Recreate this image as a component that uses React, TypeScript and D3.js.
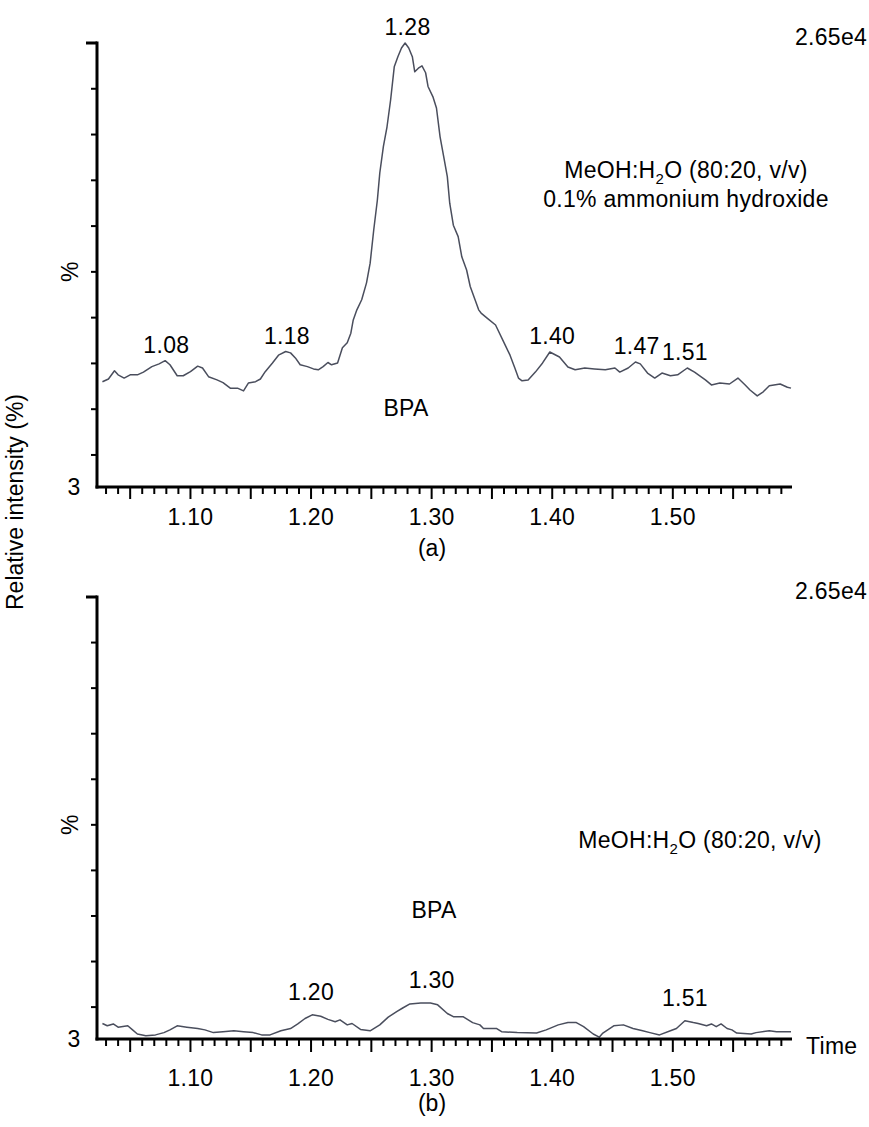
import React from "react";
import * as d3 from "d3";

// ---------- data ----------
const timeA = [1.027,1.032,1.037,1.040,1.045,1.050,1.056,1.061,1.068,1.074,1.079,1.083,1.089,1.094,1.100,1.106,1.110,1.115,1.122,1.127,1.133,1.139,1.144,1.148,1.154,1.158,1.162,1.168,1.173,1.179,1.183,1.187,1.191,1.197,1.202,1.206,1.210,1.214,1.217,1.222,1.226,1.230,1.233,1.235,1.238,1.242,1.246,1.249,1.252,1.255,1.257,1.260,1.263,1.266,1.269,1.272,1.275,1.278,1.281,1.284,1.286,1.289,1.292,1.295,1.297,1.301,1.304,1.307,1.310,1.313,1.315,1.318,1.322,1.325,1.329,1.332,1.336,1.339,1.341,1.346,1.353,1.361,1.365,1.369,1.372,1.375,1.380,1.386,1.392,1.398,1.406,1.413,1.419,1.427,1.435,1.444,1.452,1.456,1.463,1.469,1.473,1.479,1.485,1.491,1.498,1.504,1.512,1.518,1.527,1.532,1.539,1.547,1.554,1.560,1.564,1.570,1.575,1.580,1.589,1.595,1.598];
const intensityA = [26.0,26.6,28.4,27.5,26.8,27.5,27.5,28.1,29.3,29.9,30.6,29.7,27.3,27.3,28.2,29.4,29.0,27.1,26.4,25.8,24.6,24.6,24.0,25.7,26.0,26.6,28.2,30.1,31.8,32.6,32.3,31.2,29.7,29.3,28.8,28.6,29.3,30.2,29.7,30.1,33.4,34.5,36.6,39.5,41.7,43.9,47.6,51.9,59.2,65.7,71.6,77.4,81.7,87.6,94.8,97.0,98.9,100,98.9,97.0,93.7,94.5,95.0,93.5,90.5,88.3,85.8,79.5,75.2,70.8,65.0,60.2,57.7,53.3,50.4,46.8,43.9,41.7,41.0,39.9,38.4,34.0,31.8,29.0,26.8,26.2,26.4,28.1,30.1,32.5,31.4,29.2,28.6,29.0,28.8,28.6,29.0,28.1,29.0,30.3,29.9,27.9,26.8,27.9,27.3,27.5,29.0,28.1,26.4,25.3,25.7,25.5,26.8,25.3,24.2,22.9,23.8,25.1,25.5,24.8,24.6];

const timeB = [1.027,1.031,1.036,1.040,1.048,1.052,1.056,1.063,1.071,1.078,1.083,1.089,1.097,1.106,1.112,1.119,1.127,1.136,1.144,1.152,1.159,1.166,1.175,1.183,1.189,1.195,1.201,1.208,1.214,1.220,1.224,1.230,1.234,1.241,1.249,1.257,1.264,1.271,1.276,1.282,1.291,1.299,1.305,1.313,1.318,1.326,1.334,1.340,1.343,1.354,1.358,1.371,1.387,1.395,1.405,1.413,1.420,1.426,1.434,1.439,1.442,1.451,1.459,1.467,1.475,1.481,1.489,1.498,1.503,1.510,1.517,1.521,1.528,1.532,1.536,1.540,1.545,1.549,1.553,1.565,1.569,1.580,1.586,1.598];
const intensityB = [6.4,5.9,6.3,5.6,5.9,5.0,4.1,3.7,3.9,4.4,5.0,5.9,5.6,5.3,5.0,4.4,4.6,4.8,4.6,4.4,3.9,3.9,4.8,5.3,6.3,7.5,8.3,8.0,7.3,6.8,7.2,6.1,6.4,5.1,4.8,6.1,7.8,9.0,9.8,10.7,10.9,10.9,10.5,8.6,7.9,7.9,6.6,6.1,5.3,5.3,4.6,4.4,4.3,5.0,6.1,6.6,6.6,5.7,4.1,3.4,4.3,5.9,6.1,5.3,4.8,4.4,3.9,4.8,5.3,7.0,6.6,6.4,5.9,6.3,5.7,6.3,5.3,5.0,4.3,4.1,4.4,4.8,4.6,4.6];

const peaksA = [1.08, 1.18, 1.28, 1.40, 1.47, 1.51];
const peaksB = [1.20, 1.30, 1.51];
const yTickValues = [100, 90, 80, 70, 60, 50, 40, 30, 20, 10];
const xTickIndex = d3.range(103, 160); // hundredths: 1.03 .. 1.59
const xLabelValues = [1.10, 1.20, 1.30, 1.40, 1.50];
const maxIntensityLabel = "2.65e4";

// ---------- layout ----------
const W = 869;
const H = 1127;
const FONT = "'Liberation Sans', Arial, Helvetica, sans-serif";
const FS = 23;
const LS = 0.3;
const LINE_COLOR = "#4a4e5d";

const x = d3.scaleLinear().domain([1.0225, 1.598]).range([97, 791]);

type PanelProps = {
  top: number;
  bottom: number;
  times: number[];
  values: number[];
  peaks: number[];
  peakOffset: number;
  tickLabelDy: number;
  majorLen: number;
};

function Panel(p: PanelProps) {
  const y = d3.scaleLinear().domain([3, 100]).range([p.bottom, p.top]);
  const pts: [number, number][] = p.times.map((t, i) => [t, p.values[i]]);
  const line = d3
    .line<[number, number]>()
    .x((d) => x(d[0]))
    .y((d) => y(d[1]));
  const x0 = x.range()[0];
  const x1 = x.range()[1];
  return (
    <g>
      <path d={line(pts) || ""} fill="none" stroke={LINE_COLOR} strokeWidth={1.5} strokeLinejoin="round" />
      {/* y axis */}
      <line x1={x0} x2={x0} y1={p.top - 1.5} y2={p.bottom + 1.5} stroke="#000" strokeWidth={3} />
      {yTickValues.map((v) => (
        <line
          key={v}
          x1={x0 - (v === 100 ? 11 : 6)}
          x2={x0}
          y1={y(v)}
          y2={y(v)}
          stroke="#000"
          strokeWidth={v === 100 ? 3 : 2}
        />
      ))}
      {/* x axis */}
      <line x1={x0 - 1.5} x2={x1 + 1} y1={p.bottom} y2={p.bottom} stroke="#000" strokeWidth={3} />
      {xTickIndex.map((i) => {
        const major = i % 5 === 0;
        const xx = x(i / 100);
        return (
          <line
            key={i}
            x1={xx}
            x2={xx}
            y1={p.bottom}
            y2={p.bottom + (major ? p.majorLen : 7)}
            stroke="#000"
            strokeWidth={2}
          />
        );
      })}
      {xLabelValues.map((v) => (
        <text key={v} x={x(v)} y={p.bottom + p.tickLabelDy} textAnchor="middle" fontSize={FS} fontFamily={FONT} letterSpacing={LS}>
          {d3.format(".2f")(v)}
        </text>
      ))}
      <text x={74} y={p.bottom + 8} textAnchor="middle" fontSize={FS} fontFamily={FONT}>
        3
      </text>
      <text
        transform={`translate(${78},${y(50)}) rotate(-90)`}
        textAnchor="middle"
        fontSize={FS}
        fontFamily={FONT}
      >
        %
      </text>
      <text x={795} y={p.top + 2} fontSize={FS} fontFamily={FONT} letterSpacing={LS}>
        {maxIntensityLabel}
      </text>
      {p.peaks.map((t) => {
        const near = pts.filter((d) => Math.abs(d[0] - t) <= 0.012).map((d) => d[1]);
        const m = d3.max(near) ?? 0;
        return (
          <text key={t} x={x(t)} y={y(m) - p.peakOffset} textAnchor="middle" fontSize={FS} fontFamily={FONT} letterSpacing={LS}>
            {d3.format(".2f")(t)}
          </text>
        );
      })}
    </g>
  );
}

export default function App() {
  return (
    <svg
      width={W}
      height={H}
      viewBox={`0 0 ${W} ${H}`}
      style={{ position: "absolute", left: 0, top: 0, background: "#fff" }}
    >
      <rect width={W} height={H} fill="#fff" />
      <Panel
        top={43}
        bottom={487}
        times={timeA}
        values={intensityA}
        peaks={peaksA}
        peakOffset={8}
        tickLabelDy={38}
        majorLen={12}
      />
      <Panel
        top={597}
        bottom={1039}
        times={timeB}
        values={intensityB}
        peaks={peaksB}
        peakOffset={15}
        tickLabelDy={47}
        majorLen={13}
      />
      {/* panel a annotations */}
      <text x={686} y={178} textAnchor="middle" fontSize={FS} fontFamily={FONT} letterSpacing={LS}>
        MeOH:H<tspan fontSize={15} dy={6}>2</tspan>
        <tspan dy={-6}>O (80:20, v/v)</tspan>
      </text>
      <text x={686} y={207} textAnchor="middle" fontSize={FS} fontFamily={FONT} letterSpacing={LS}>
        0.1% ammonium hydroxide
      </text>
      <text x={406} y={416} textAnchor="middle" fontSize={FS} fontFamily={FONT} letterSpacing={LS}>
        BPA
      </text>
      <text x={432} y={556} textAnchor="middle" fontSize={FS} fontFamily={FONT}>
        (a)
      </text>
      {/* panel b annotations */}
      <text x={700} y={848} textAnchor="middle" fontSize={FS} fontFamily={FONT} letterSpacing={LS}>
        MeOH:H<tspan fontSize={15} dy={6}>2</tspan>
        <tspan dy={-6}>O (80:20, v/v)</tspan>
      </text>
      <text x={434} y={918} textAnchor="middle" fontSize={FS} fontFamily={FONT} letterSpacing={LS}>
        BPA
      </text>
      <text x={432} y={1111} textAnchor="middle" fontSize={FS} fontFamily={FONT}>
        (b)
      </text>
      <text x={806} y={1054} fontSize={FS} fontFamily={FONT} letterSpacing={LS}>
        Time
      </text>
      <text
        transform={`translate(${23},${502}) rotate(-90)`}
        textAnchor="middle"
        fontSize={FS}
        fontFamily={FONT}
      >
        Relative intensity (%)
      </text>
    </svg>
  );
}
